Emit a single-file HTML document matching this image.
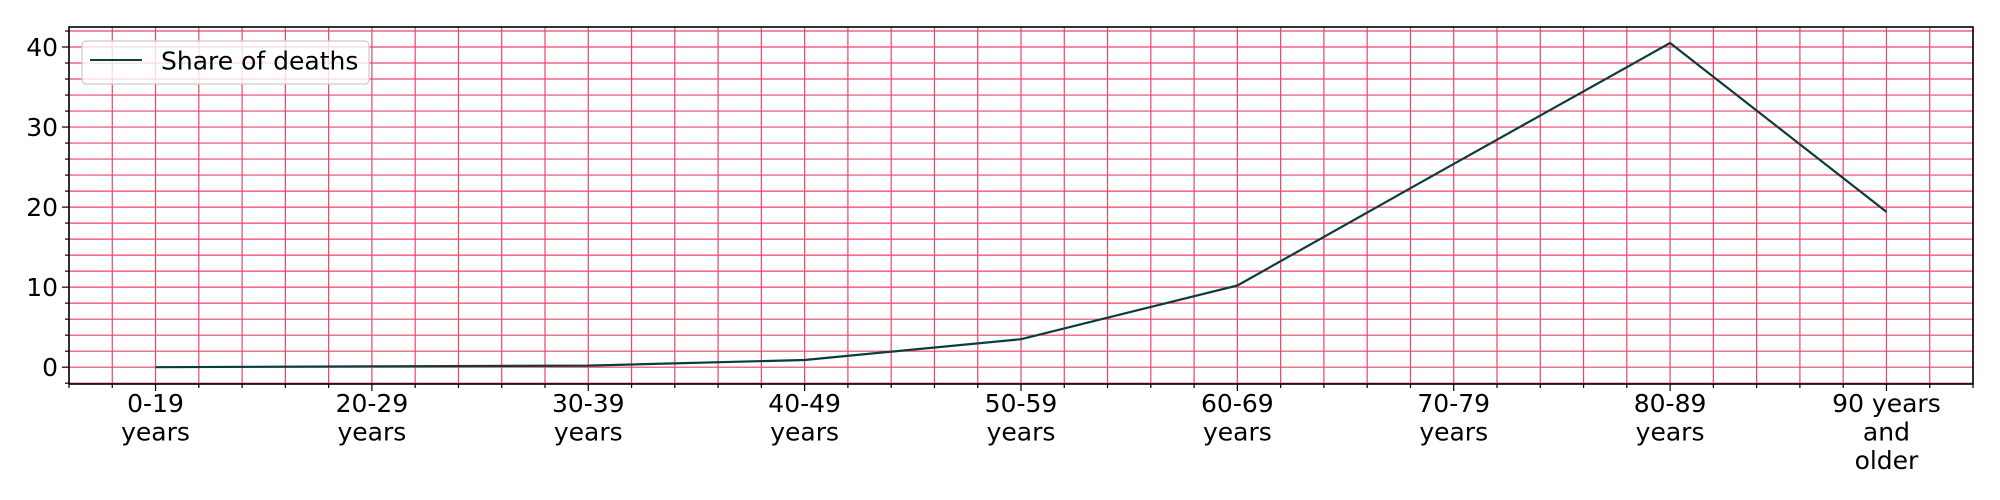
<!DOCTYPE html>
<html><head><meta charset="utf-8"><style>
html,body{margin:0;padding:0;background:#fff;}
svg{display:block;font-family:"DejaVu Sans","Liberation Sans",sans-serif;}
</style></head><body>
<svg id="chart" width="2000" height="500" viewBox="0 0 2000 500" xmlns="http://www.w3.org/2000/svg">
<rect x="0" y="0" width="2000" height="500" fill="#fff"/>
<g id="grid"></g>
<g id="series"></g>
<rect x="69" y="27" width="1904" height="357" fill="none" stroke="#000" stroke-width="1.6"/>
<g id="ticks"></g>
<g>
<rect x="82" y="41" width="287" height="43" rx="4" fill="#fff" fill-opacity="0.8" stroke="#ccc" stroke-width="1.2"/>
<line x1="90" y1="60" x2="142" y2="60" stroke="#0b3d3d" stroke-width="2"/>
<text x="161" y="69.5" font-size="25" fill="#000">Share of deaths</text>
</g>
</svg>
<script>
const categories = [["0-19","years"],["20-29","years"],["30-39","years"],["40-49","years"],["50-59","years"],["60-69","years"],["70-79","years"],["80-89","years"],["90 years","and","older"]];
const shareOfDeaths = [0.0, 0.1, 0.2, 0.9, 3.5, 10.2, 25.4, 40.5, 19.4];
const yTicks = [0, 10, 20, 30, 40];

const NS = "http://www.w3.org/2000/svg";
const L = 69, R = 1973, T = 27, B = 384;
const xMin = -0.4, xMax = 8.4, yMin = -2.1, yMax = 42.5;
function xs(i){ return L + (i - xMin) / (xMax - xMin) * (R - L); }
function ys(v){ return B - (v - yMin) / (yMax - yMin) * (B - T); }
function mk(tag, attrs, parent){
  const e = document.createElementNS(NS, tag);
  for (const k in attrs) e.setAttribute(k, attrs[k]);
  parent.appendChild(e);
  return e;
}
const grid = document.getElementById('grid');
const ticks = document.getElementById('ticks');
const series = document.getElementById('series');
const gc = "#ee4466";

for (let k = -2; k <= 42; k++) {
  const v = k * 0.2;
  if (v < xMin || v > xMax) continue;
  const x = xs(v);
  const gl = mk('line', {x1:x, y1:T, x2:x, y2:B, stroke:gc, 'stroke-width':1.2}, grid);
  
  
  const major = (k % 5 === 0);
  const tk = mk('line', {x1:x, y1:B, x2:x, y2:B + (major ? 7 : 4), stroke:'#000', 'stroke-width':1.2}, ticks);
  
  
}
for (let v = -2; v <= 42; v += 2) {
  const y = ys(v);
  if (y < T || y > B + 0.5) continue;
  const gl = mk('line', {x1:L, y1:y, x2:R, y2:y, stroke:gc, 'stroke-width':1.2}, grid);
  
  
  const major = (v % 10 === 0);
  const tk = mk('line', {x1:L, y1:y, x2:L - (major ? 7 : 4), y2:y, stroke:'#000', 'stroke-width':1.2}, ticks);
  
  
}
yTicks.forEach(v => {
  const t = mk('text', {x:L - 11, y:ys(v) + 9, 'text-anchor':'end', 'font-size':25, fill:'#000'}, ticks);
  
  
  t.textContent = v;
});
categories.forEach((lines, i) => {
  lines.forEach((s, j) => {
    const t = mk('text', {x:xs(i), y:412 + j * 28.5, 'text-anchor':'middle', 'font-size':25, fill:'#000'}, ticks);
    
    
    t.textContent = s;
  });
});
const pts = shareOfDeaths.map((v, i) => xs(i).toFixed(1) + ',' + ys(v).toFixed(1)).join(' ');
const pl = mk('polyline', {points:pts, fill:'none', stroke:'#0b3d3d', 'stroke-width':2.2, 'stroke-linejoin':'round'}, series);


</script>
</body></html>
